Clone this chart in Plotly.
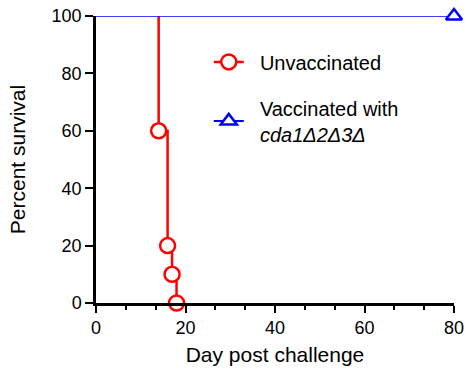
import plotly.graph_objects as go

# Data
unvacc_days = [0, 14, 16, 17, 18]
unvacc_survival = [100, 60, 20, 10, 0]
vacc_days = [0, 80]
vacc_survival = [100, 100]
x_ticks = [0, 20, 40, 60, 80]
y_ticks = [0, 20, 40, 60, 80, 100]

RED = "#ff0000"
BLUE = "#0000ff"
FONT = "Liberation Sans, Arial, sans-serif"
NB = "\u00a0\u00a0"

fig = go.Figure()

# Unvaccinated step line (drawn from first drop; day 0-14 segment lies under the blue line)
fig.add_trace(go.Scatter(
    x=[unvacc_days[1]] + unvacc_days[1:],
    y=[unvacc_survival[0]] + unvacc_survival[1:],
    mode="lines", line=dict(color=RED, width=2.5, shape="hv"),
    showlegend=False, hoverinfo="skip", cliponaxis=False))

# Unvaccinated markers (with None gaps so legend shows line+marker)
mx, my = [], []
for d, s in zip(unvacc_days[1:], unvacc_survival[1:]):
    mx += [d, None]
    my += [s, None]
fig.add_trace(go.Scatter(
    x=mx, y=my, mode="lines+markers", connectgaps=False,
    name=NB + "Unvaccinated", legendgroup="a",
    line=dict(color=RED, width=2.5),
    marker=dict(symbol="circle", size=15, color="white",
                line=dict(color=RED, width=2.5)),
    cliponaxis=False))

# Vaccinated line
fig.add_trace(go.Scatter(
    x=vacc_days, y=vacc_survival, mode="lines",
    line=dict(color=BLUE, width=1.5), showlegend=False,
    hoverinfo="skip", cliponaxis=False))
fig.add_trace(go.Scatter(
    x=vacc_days[-1:], y=vacc_survival[-1:], mode="lines+markers",
    name=NB + "Vaccinated with<br>" + NB + "<i>cda1Δ2Δ3Δ</i>", legendgroup="b",
    line=dict(color=BLUE, width=2),
    marker=dict(symbol="triangle-up", size=14, color="white",
                line=dict(color=BLUE, width=2.5)),
    cliponaxis=False))

fig.update_layout(
    width=469, height=372,
    margin=dict(l=96, r=15, t=16, b=69, autoexpand=False),
    paper_bgcolor="white", plot_bgcolor="white",
    font=dict(family=FONT, color="black", size=18),
    legend=dict(x=0.315, y=0.908, xanchor="left", yanchor="top",
                font=dict(size=20, family=FONT), tracegroupgap=17,
                bgcolor="rgba(0,0,0,0)", itemwidth=30),
    xaxis=dict(range=[0, 80], tickvals=x_ticks, ticks="outside",
               ticklen=7, tickwidth=2, tickcolor="black",
               showline=True, linecolor="black", linewidth=2.5,
               showgrid=False, zeroline=False, automargin=False,
               ticklabeloverflow="allow",
               tickfont=dict(size=18),
               minor=dict(dtick=20/3, ticks="outside", ticklen=4,
                          tickwidth=2, tickcolor="black", showgrid=False),
               title=dict(text="Day post challenge", font=dict(size=21),
                          standoff=10)),
    yaxis=dict(range=[0, 100], tickvals=y_ticks, ticks="outside",
               ticklen=8, tickwidth=2, tickcolor="black",
               showline=True, linecolor="black", linewidth=2.5,
               showgrid=False, zeroline=False, automargin=False,
               ticklabeloverflow="allow",
               tickfont=dict(size=18),
               title=dict(text="Percent survival", font=dict(size=21),
                          standoff=21)),
)

fig.write_html("out.html",
               config={"displayModeBar": False},
               post_script="document.body.style.margin='0';document.body.style.padding='0';")
